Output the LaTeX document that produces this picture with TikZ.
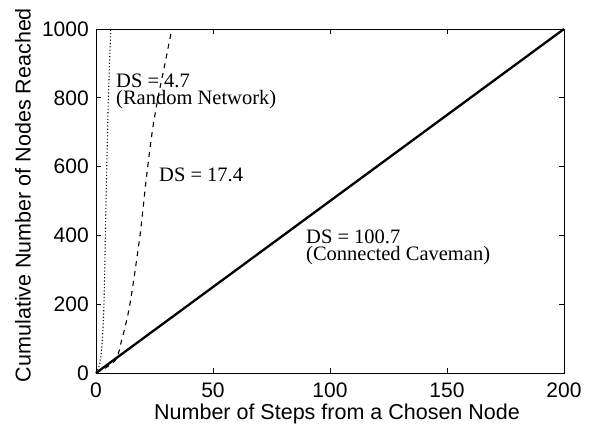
\documentclass[tikz,border=0pt]{standalone}
\usepackage{fontspec}
\setmainfont{Liberation Serif}
\setsansfont{Liberation Sans}
\begin{document}
\begin{tikzpicture}[x=1pt,y=-1pt,
  ticklab/.style={font=\sffamily\fontsize{21}{21}\selectfont, inner sep=0pt},
  axlab/.style={font=\sffamily\fontsize{21.5}{21.5}\selectfont, inner sep=0pt},
  annot/.style={font=\fontsize{20.5}{16.5}\selectfont, inner sep=0pt, anchor=north west, align=left},
  frame/.style={line width=0.9pt},
  tickmark/.style={line width=0.7pt}]
\fill[white] (0,0) rectangle (589,430);
\useasboundingbox (0,0) rectangle (589,430);
\begin{scope}[shift={(96,373)}, x=2.34pt, y=0.344pt]
  % frame
  \draw[frame] (0,0) rectangle (200,1000);
  % ticks
  \foreach \t in {50,100,150} {
    \draw[tickmark] (\t,0) -- ++(0,14);
    \draw[tickmark] (\t,1000) -- ++(0,-14);
  }
  \foreach \t in {200,400,600,800} {
    \draw[tickmark] (0,\t) -- ++(2.2,0);
    \draw[tickmark] (200,\t) -- ++(-2.2,0);
  }
  % x tick labels
  \foreach \t in {0,50,100,150,200}
    \node[ticklab, anchor=north] (xt\t) at (\t,-29) {\t};
  % y tick labels
  \foreach \t in {0,200,400,600,800,1000}
    \node[ticklab, anchor=east] (yt\t) at (-3,\t) {\t};
  % curves
  \draw[line width=2.3pt] (0,0) -- (200,1000);
  \draw[line width=1.1pt, dash pattern=on 5pt off 5pt]
    plot[smooth] coordinates {(0,0) (8.1,35) (11.0,96) (14.5,200) (18.8,400) (21.4,560) (24.0,700) (26.5,800) (29.5,900) (32.4,1000)};
  \draw[line width=1.1pt, dash pattern=on 1.1pt off 2.2pt]
    plot[smooth] coordinates {(0,0) (1.7,29) (2.7,96) (3.4,200) (4.0,400) (4.6,600) (5.3,800) (6.3,1000)};
\end{scope}
% annotations
\node[annot] (a1) at (116,74) {DS = 4.7\\(Random Network)};
\node[annot] (a2) at (159,168) {DS = 17.4};
\node[annot] (a3) at (306,230) {DS = 100.7\\(Connected Caveman)};
% axis labels
\node[axlab] (xl) at (337,414) {Number of Steps from a Chosen Node};
\node[axlab, rotate=90] (yl) at (23,195) {Cumulative Number of Nodes Reached};
\end{tikzpicture}
\end{document}
